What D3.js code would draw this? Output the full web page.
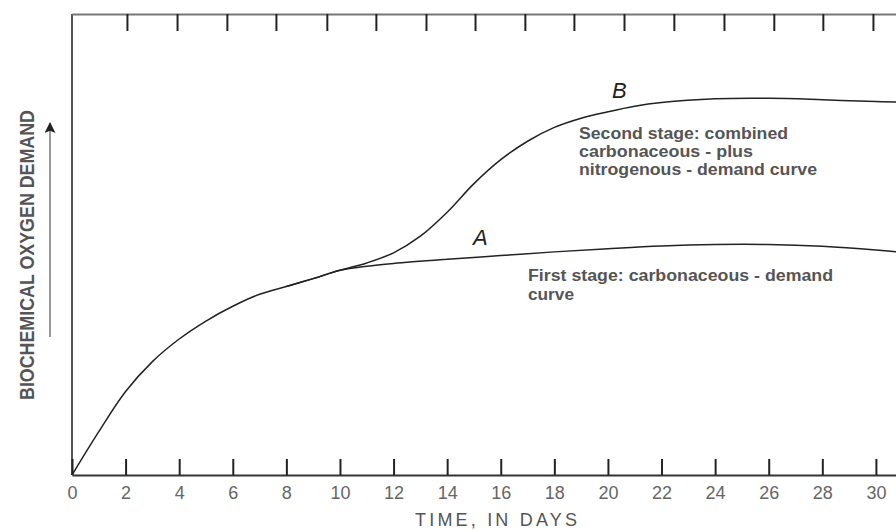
<!DOCTYPE html>
<html>
<head>
<meta charset="utf-8">
<script src="https://cdn.jsdelivr.net/npm/d3@7"></script>
<style>
  body { margin: 0; background: #fff; }
  svg { display: block; }
</style>
</head>
<body>
<svg id="chart" width="896" height="532"></svg>
<script>
"use strict";
// days on the bottom axis, values are relative BOD (0-100 of the plot height)
var dayTicks = [0, 2, 4, 6, 8, 10, 12, 14, 16, 18, 20, 22, 24, 26, 28, 30];
var topTickDays = [2.05, 3.92, 5.78, 7.61, 9.51, 11.34, 13.21, 15.04, 16.9, 18.73, 20.6, 22.46, 24.33, 26.19, 28.02, 29.89];

var firstDays   = [0, 1, 2, 3, 4, 5, 6, 7, 8, 9, 10, 11, 12, 14, 16, 18, 20, 22, 24, 26, 28, 30, 30.75];
var firstValues = [0, 9.4, 18.1, 24.6, 29.5, 33.4, 36.6, 39.2, 40.9, 42.6, 44.4, 45.3, 45.9, 46.8, 47.6, 48.4, 49.1, 49.7, 50.0, 50.0, 49.6, 48.8, 48.4];

var secondDays   = [8, 9, 10, 11, 12, 13, 14, 15, 16, 17, 18, 19, 20, 21, 22, 24, 26, 28, 30, 30.75];
var secondValues = [40.9, 42.6, 44.4, 46.0, 48.2, 51.8, 57.0, 63.2, 68.4, 72.4, 75.4, 77.4, 78.8, 80.0, 80.8, 81.6, 81.7, 81.4, 81.0, 80.9];

var firstLabel  = ["First stage: carbonaceous - demand", "curve"];
var secondLabel = ["Second stage: combined", "carbonaceous - plus", "nitrogenous - demand curve"];

var svg = d3.select("#chart");
var x = d3.scaleLinear().domain([0, 30.75]).range([72, 896]);
var y = d3.scaleLinear().domain([0, 100]).range([475, 14]);

var fontMain = "'Liberation Sans', Arial, sans-serif";

// frame: left line
svg.append("line")
  .attr("x1", x(0)).attr("x2", x(0))
  .attr("y1", y(0)).attr("y2", y(100))
  .attr("stroke", "#555").attr("stroke-width", 2);

// bottom axis, ticks pointing inward
var bottomAxis = d3.axisBottom(x)
  .tickValues(dayTicks)
  .tickSizeInner(-16)
  .tickSizeOuter(0)
  .tickPadding(11);
var gb = svg.append("g").attr("transform", "translate(0," + y(0) + ")").call(bottomAxis);
gb.select(".domain").attr("stroke", "#333").attr("stroke-width", 2);
gb.selectAll(".tick line").attr("stroke", "#222").attr("stroke-width", 2);
gb.selectAll(".tick text")
  .attr("font-family", fontMain)
  .attr("font-size", 18)
  .attr("fill", "#666");

// top axis, unlabelled
var topAxis = d3.axisTop(x)
  .tickValues(topTickDays)
  .tickSizeInner(-17)
  .tickSizeOuter(0)
  .tickFormat("");
var gt = svg.append("g").attr("transform", "translate(0," + y(100) + ")").call(topAxis);
gt.select(".domain").attr("stroke", "#777").attr("stroke-width", 2);
gt.selectAll(".tick line").attr("stroke", "#222").attr("stroke-width", 2);

// axis titles
svg.append("text")
  .attr("x", 415).attr("y", 526)
  .attr("font-family", fontMain)
  .attr("font-size", 18)
  .attr("fill", "#555")
  .attr("textLength", 162).attr("lengthAdjust", "spacing")
  .text("TIME, IN DAYS");

svg.append("text")
  .attr("transform", "translate(34,400) rotate(-90)")
  .attr("font-family", "'Liberation Sans Narrow', 'Arial Narrow', Arial, sans-serif")
  .attr("font-size", 21)
  .attr("font-weight", "bold")
  .attr("fill", "#555")
  .attr("textLength", 290).attr("lengthAdjust", "spacingAndGlyphs")
  .text("BIOCHEMICAL OXYGEN DEMAND");

// arrow next to the y label
svg.append("defs").append("marker")
  .attr("id", "head")
  .attr("viewBox", "0 0 10 10")
  .attr("refX", 9).attr("refY", 5)
  .attr("markerWidth", 18).attr("markerHeight", 11)
  .attr("markerUnits", "userSpaceOnUse")
  .attr("orient", "auto")
  .append("path").attr("d", "M0,0L10,5L0,10L2,5Z").attr("fill", "#222");
svg.append("line")
  .attr("x1", 50).attr("x2", 50)
  .attr("y1", 337).attr("y2", 123)
  .attr("stroke", "#777").attr("stroke-width", 1.5)
  .attr("marker-end", "url(#head)");

// curves
var line = d3.line()
  .x(function (d) { return x(d[0]); })
  .y(function (d) { return y(d[1]); })
  .curve(d3.curveCatmullRom.alpha(0.5));

svg.append("path")
  .datum(d3.zip(firstDays, firstValues))
  .attr("d", line)
  .attr("fill", "none").attr("stroke", "#222").attr("stroke-width", 1.5);

svg.append("path")
  .datum(d3.zip(secondDays, secondValues))
  .attr("d", line)
  .attr("fill", "none").attr("stroke", "#222").attr("stroke-width", 1.5);

// curve letters
svg.append("text")
  .attr("x", 612).attr("y", 98)
  .attr("font-family", fontMain).attr("font-style", "italic")
  .attr("font-size", 22).attr("fill", "#222")
  .text("B");
svg.append("text")
  .attr("x", 473).attr("y", 245)
  .attr("font-family", fontMain).attr("font-style", "italic")
  .attr("font-size", 22).attr("fill", "#222")
  .text("A");

// annotations
var secondWidths = [209, 174, 238];
svg.append("g").selectAll("text")
  .data(secondLabel)
  .join("text")
  .attr("x", 579)
  .attr("y", function (d, i) { return 139 + i * 18; })
  .attr("font-family", fontMain).attr("font-size", 16)
  .attr("font-weight", "bold").attr("fill", "#555")
  .attr("textLength", function (d, i) { return secondWidths[i]; })
  .attr("lengthAdjust", "spacingAndGlyphs")
  .text(function (d) { return d; });

var firstWidths = [305, 46];
svg.append("g").selectAll("text")
  .data(firstLabel)
  .join("text")
  .attr("x", 528)
  .attr("y", function (d, i) { return 281 + i * 18.5; })
  .attr("font-family", fontMain).attr("font-size", 16)
  .attr("font-weight", "bold").attr("fill", "#555")
  .attr("textLength", function (d, i) { return firstWidths[i]; })
  .attr("lengthAdjust", "spacingAndGlyphs")
  .text(function (d) { return d; });
</script>
</body>
</html>
